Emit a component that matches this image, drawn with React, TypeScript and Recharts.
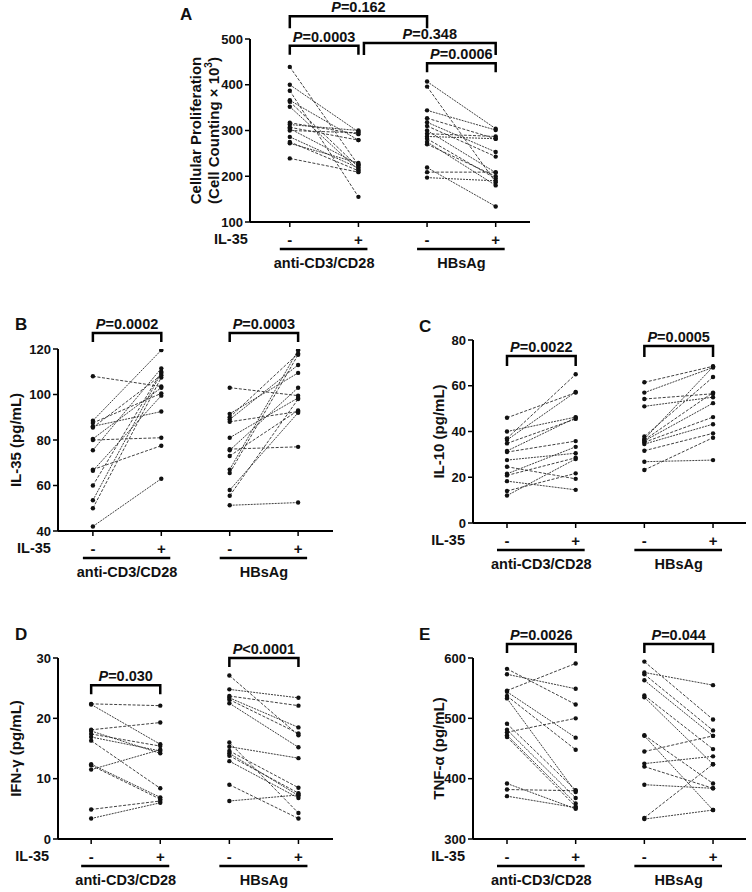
import React from 'react';
import { ComposedChart, Scatter, XAxis, YAxis, ReferenceLine } from 'recharts';

const FONT = '"Liberation Sans", Arial, Helvetica, sans-serif';

const conditions = ['-', '+', '-', '+'];
const stimuli = ['anti-CD3/CD28', 'HBsAg'];

// A - cellular proliferation (cell counting x 10^3)
const prolifTicks = [100, 200, 300, 400, 500];
const prolifCd3Minus = [439, 400, 387, 366, 363, 352, 317, 313, 307, 304, 300, 286, 275, 272, 239];
const prolifCd3Plus = [224, 297, 155, 279, 220, 214, 292, 300, 279, 226, 295, 218, 212, 229, 209];
const prolifHbsMinus = [407, 396, 344, 327, 318, 310, 300, 293, 287, 282, 275, 270, 219, 209, 197];
const prolifHbsPlus = [304, 187, 301, 282, 253, 243, 208, 287, 282, 195, 180, 200, 134, 209, 190];
const prolifP = ['=0.162', '=0.0003', '=0.348', '=0.0006'];

// B - IL-35 (pg/mL)
const il35Ticks = [40, 60, 80, 100, 120];
const il35Cd3Minus = [108, 88.5, 87.5, 86, 85.5, 80.5, 80, 75.5, 67, 66.5, 60, 53.5, 50, 42];
const il35Cd3Plus = [103.5, 119.5, 100.5, 92.5, 108.5, 103, 81, 111.5, 77.5, 99.5, 110, 109.5, 107.5, 63];
const il35HbsMinus = [103, 91.5, 90, 89, 88, 81, 76, 75.5, 73, 67, 65.5, 58, 55.5, 51.3];
const il35HbsPlus = [99.5, 109.5, 118, 113, 92.5, 98.5, 77, 103, 93, 119.5, 117.5, 92, 98, 52.5];
const il35P = ['=0.0002', '=0.0003'];

// C - IL-10 (pg/mL)
const il10Ticks = [0, 20, 40, 60, 80];
const il10Cd3Minus = [46, 40, 37, 36.3, 34.8, 31.5, 31, 27.5, 24.6, 21.5, 20.8, 18.3, 14, 12];
const il10Cd3Plus = [57, 46.3, 65, 57.3, 45.5, 46, 35.8, 30.5, 19.3, 33.3, 28.5, 14.5, 21.7, 28];
const il10HbsMinus = [61.5, 57, 54.2, 51, 37.8, 36.7, 36.3, 35.9, 35.3, 34.5, 31.6, 26.8, 23.2];
const il10HbsPlus = [68.5, 68, 56.5, 55, 63.8, 68.3, 57, 52.4, 46.3, 43.2, 39.2, 27.5, 37.3];
const il10P = ['=0.0022', '=0.0005'];

// D - IFN-gamma (pg/mL)
const ifnTicks = [0, 10, 20, 30];
const ifnCd3Minus = [22.4, 22.3, 18.1, 17.9, 17.4, 16.9, 16.3, 12.4, 12.2, 11.5, 4.9, 3.4];
const ifnCd3Plus = [22.1, 15.7, 19.3, 14.2, 15.4, 14.6, 8.4, 6.9, 6.6, 14.8, 6.3, 6];
const ifnHbsMinus = [27.1, 24.8, 23.7, 23.4, 23.1, 22.5, 16, 15.3, 14.6, 14.2, 13.8, 12.9, 9, 6.3];
const ifnHbsPlus = [17.2, 23.4, 22.1, 18.5, 17.5, 15.2, 4.3, 13.4, 8.5, 7.2, 7.6, 6.8, 3.4, 7.3];
const ifnP = ['=0.030', '<0.0001'];

// E - TNF-alpha (pg/mL)
const tnfTicks = [300, 400, 500, 600];
const tnfCd3Minus = [582, 573, 546, 544, 537, 533, 491, 481, 477, 472, 469, 392, 382, 371];
const tnfCd3Plus = [523, 549, 591, 468, 448, 378, 381, 368, 500, 359, 354, 350, 380, 352];
const tnfHbsMinus = [594, 576, 573, 563, 538, 535, 472, 471, 445, 425, 420, 390, 335, 333];
const tnfHbsPlus = [498, 555, 480, 471, 449, 424, 392, 348, 471, 437, 384, 384, 424, 348];
const tnfP = ['=0.0026', '=0.044'];

type Pt = { x: number; y: number };
type Bracket = { x1: number; x2: number; y: number; leg: number; p: string };

const pairs = (minus: number[], plus: number[], x0: number): Pt[][] =>
  minus.map((v, i) => [
    { x: x0, y: v },
    { x: x0 + 1, y: plus[i] },
  ]);

const CondTick = (props: any) => {
  const { x, y, payload, step } = props;
  const idx = Math.round(payload.value) - 1;
  const first = idx % 2 === 0;
  return (
    <g fontFamily={FONT} fontWeight="bold" fill="#111">
      <text x={x} y={y + 12} textAnchor="middle" dominantBaseline="central" fontSize={15}>
        {conditions[idx]}
      </text>
      {idx === 0 && (
        <text x={x - 42} y={y + 12} textAnchor="end" dominantBaseline="central" fontSize={14.5}>
          IL-35
        </text>
      )}
      {first && (
        <>
          <line x1={x - 10} x2={x + step + 9} y1={y + 22} y2={y + 22} stroke="#000" strokeWidth={2.5} />
          <text x={x + step / 2} y={y + 36} textAnchor="middle" dominantBaseline="central" fontSize={14.5}>
            {stimuli[idx / 2]}
          </text>
        </>
      )}
    </g>
  );
};

const YTitle = (props: any) => {
  const { viewBox, lines, xs } = props;
  const cy = viewBox.y + viewBox.height / 2;
  return (
    <g>
      {lines.map((ln: React.ReactNode, i: number) => (
        <text
          key={i}
          x={xs[i]}
          y={cy}
          transform={`rotate(-90 ${xs[i]} ${cy})`}
          textAnchor="middle"
          dominantBaseline="central"
          fontFamily={FONT}
          fontSize={15}
          fontWeight="bold"
          fill="#111"
        >
          {ln}
        </text>
      ))}
    </g>
  );
};

const bracketShape = (b: Bracket) => (p: any) => {
  const { x1, y1, x2 } = p;
  return (
    <g>
      <path d={`M${x1},${y1 + b.leg}V${y1}H${x2}V${y1 + b.leg}`} fill="none" stroke="#000" strokeWidth={2.5} />
      <text
        x={(x1 + x2) / 2}
        y={y1 - 9}
        textAnchor="middle"
        dominantBaseline="central"
        fontFamily={FONT}
        fontSize={14.5}
        fontWeight="bold"
        fill="#111"
      >
        <tspan fontStyle="italic">P</tspan>
        {b.p}
      </text>
    </g>
  );
};

const dot = (p: any) => <circle cx={p.cx} cy={p.cy} r={2.2} fill="#111" />;

type PanelProps = {
  box: { x: number; y: number; w: number; h: number };
  margin: { top: number; right: number; bottom: number; left: number };
  xDomain: [number, number];
  yDomain: [number, number];
  yTicks: number[];
  cd3: Pt[][];
  hbs: Pt[][];
  brackets: Bracket[];
  titles: React.ReactNode[];
  titleX: number[];
};

const Panel = ({ box, margin, xDomain, yDomain, yTicks, cd3, hbs, brackets, titles, titleX }: PanelProps) => {
  const yw = 40;
  const step = (box.w - margin.left - margin.right - yw) / (xDomain[1] - xDomain[0]);
  const all = [...cd3, ...hbs];
  return (
    <div style={{ position: 'absolute', left: box.x, top: box.y }}>
      <ComposedChart width={box.w} height={box.h} margin={margin} style={{ overflow: 'visible' }}>
        <XAxis
          dataKey="x"
          type="number"
          domain={xDomain}
          allowDataOverflow
          ticks={[1, 2, 3, 4]}
          interval={0}
          height={50}
          tickSize={5}
          tickMargin={0}
          axisLine={{ stroke: '#000', strokeWidth: 2 }}
          tickLine={{ stroke: '#000', strokeWidth: 1.5 }}
          tick={<CondTick step={step} />}
        />
        <YAxis
          dataKey="y"
          type="number"
          domain={yDomain}
          allowDataOverflow
          ticks={yTicks}
          interval={0}
          width={yw}
          tickSize={5}
          axisLine={{ stroke: '#000', strokeWidth: 2 }}
          tickLine={{ stroke: '#000', strokeWidth: 1.5 }}
          tick={{ fontSize: 13, fontWeight: 'bold', fill: '#111', fontFamily: FONT }}
          label={<YTitle lines={titles} xs={titleX} />}
        />
        {all.map((pr, i) => (
          <Scatter
            key={i}
            data={pr}
            fill="#111"
            line={{ stroke: '#2a2a2a', strokeWidth: 0.9, strokeDasharray: i % 2 === 0 ? '3 1.6' : '2 1' }}
            shape={dot}
            isAnimationActive={false}
          />
        ))}
        {brackets.map((b, i) => (
          <ReferenceLine
            key={`b${i}`}
            segment={[
              { x: b.x1, y: b.y },
              { x: b.x2, y: b.y },
            ]}
            ifOverflow="visible"
            shape={bracketShape(b)}
          />
        ))}
      </ComposedChart>
    </div>
  );
};

const Letter = ({ x, y, t }: { x: number; y: number; t: string }) => (
  <div
    style={{
      position: 'absolute',
      left: x - 7,
      top: y - 11,
      fontFamily: FONT,
      fontWeight: 'bold',
      fontSize: 17,
      lineHeight: '22px',
      color: '#111',
    }}
  >
    {t}
  </div>
);

export default function App() {
  return (
    <div style={{ position: 'absolute', left: 0, top: 0, width: 752, height: 892, background: '#fff' }}>
      <Letter x={187} y={15} t="A" />
      <Letter x={22} y={325} t="B" />
      <Letter x={426} y={327} t="C" />
      <Letter x={22} y={635} t="D" />
      <Letter x={426} y={635} t="E" />

      <Panel
        box={{ x: 150, y: 0, w: 390, h: 280 }}
        margin={{ top: 39, right: 10, bottom: 8, left: 60 }}
        xDomain={[0.42, 4.5]}
        yDomain={[100, 500]}
        yTicks={prolifTicks}
        cd3={pairs(prolifCd3Minus, prolifCd3Plus, 1)}
        hbs={pairs(prolifHbsMinus, prolifHbsPlus, 3)}
        brackets={[
          { x1: 1, x2: 3, y: 550, leg: 12, p: prolifP[0] },
          { x1: 1, x2: 2, y: 485, leg: 9, p: prolifP[1] },
          { x1: 2.08, x2: 4, y: 491, leg: 12, p: prolifP[2] },
          { x1: 3, x2: 4, y: 447, leg: 9, p: prolifP[3] },
        ]}
        titles={[
          'Cellular Proliferation',
          <>
            (Cell Counting × 10
            <tspan dy={-5} fontSize={10}>
              3
            </tspan>
            <tspan dy={5}>)</tspan>
          </>,
        ]}
        titleX={[45, 63]}
      />

      <Panel
        box={{ x: 0, y: 290, w: 345, h: 300 }}
        margin={{ top: 59, right: 12, bottom: 9, left: 18 }}
        xDomain={[0.49, 4.51]}
        yDomain={[40, 120]}
        yTicks={il35Ticks}
        cd3={pairs(il35Cd3Minus, il35Cd3Plus, 1)}
        hbs={pairs(il35HbsMinus, il35HbsPlus, 3)}
        brackets={[
          { x1: 1, x2: 2, y: 127, leg: 9, p: il35P[0] },
          { x1: 3, x2: 4, y: 127, leg: 9, p: il35P[1] },
        ]}
        titles={['IL-35 (pg/mL)']}
        titleX={[15]}
      />

      <Panel
        box={{ x: 376, y: 290, w: 376, h: 300 }}
        margin={{ top: 50, right: 6, bottom: 17, left: 57 }}
        xDomain={[0.505, 4.48]}
        yDomain={[0, 80]}
        yTicks={il10Ticks}
        cd3={pairs(il10Cd3Minus, il10Cd3Plus, 1)}
        hbs={pairs(il10HbsMinus, il10HbsPlus, 3)}
        brackets={[
          { x1: 1, x2: 2, y: 73, leg: 10, p: il10P[0] },
          { x1: 3, x2: 4, y: 77.4, leg: 11, p: il10P[1] },
        ]}
        titles={['IL-10 (pg/mL)']}
        titleX={[62]}
      />

      <Panel
        box={{ x: 0, y: 600, w: 345, h: 292 }}
        margin={{ top: 58, right: 12, bottom: 3, left: 18 }}
        xDomain={[0.52, 4.5]}
        yDomain={[0, 30]}
        yTicks={ifnTicks}
        cd3={pairs(ifnCd3Minus, ifnCd3Plus, 1)}
        hbs={pairs(ifnHbsMinus, ifnHbsPlus, 3)}
        brackets={[
          { x1: 1, x2: 2, y: 25.5, leg: 9, p: ifnP[0] },
          { x1: 3, x2: 4, y: 30, leg: 9, p: ifnP[1] },
        ]}
        titles={['IFN-γ (pg/mL)']}
        titleX={[15]}
      />

      <Panel
        box={{ x: 376, y: 600, w: 376, h: 292 }}
        margin={{ top: 58, right: 6, bottom: 3, left: 57 }}
        xDomain={[0.505, 4.48]}
        yDomain={[300, 600]}
        yTicks={tnfTicks}
        cd3={pairs(tnfCd3Minus, tnfCd3Plus, 1)}
        hbs={pairs(tnfHbsMinus, tnfHbsPlus, 3)}
        brackets={[
          { x1: 1, x2: 2, y: 623, leg: 9, p: tnfP[0] },
          { x1: 3, x2: 4, y: 623, leg: 9, p: tnfP[1] },
        ]}
        titles={['TNF-α (pg/mL)']}
        titleX={[62]}
      />
    </div>
  );
}
